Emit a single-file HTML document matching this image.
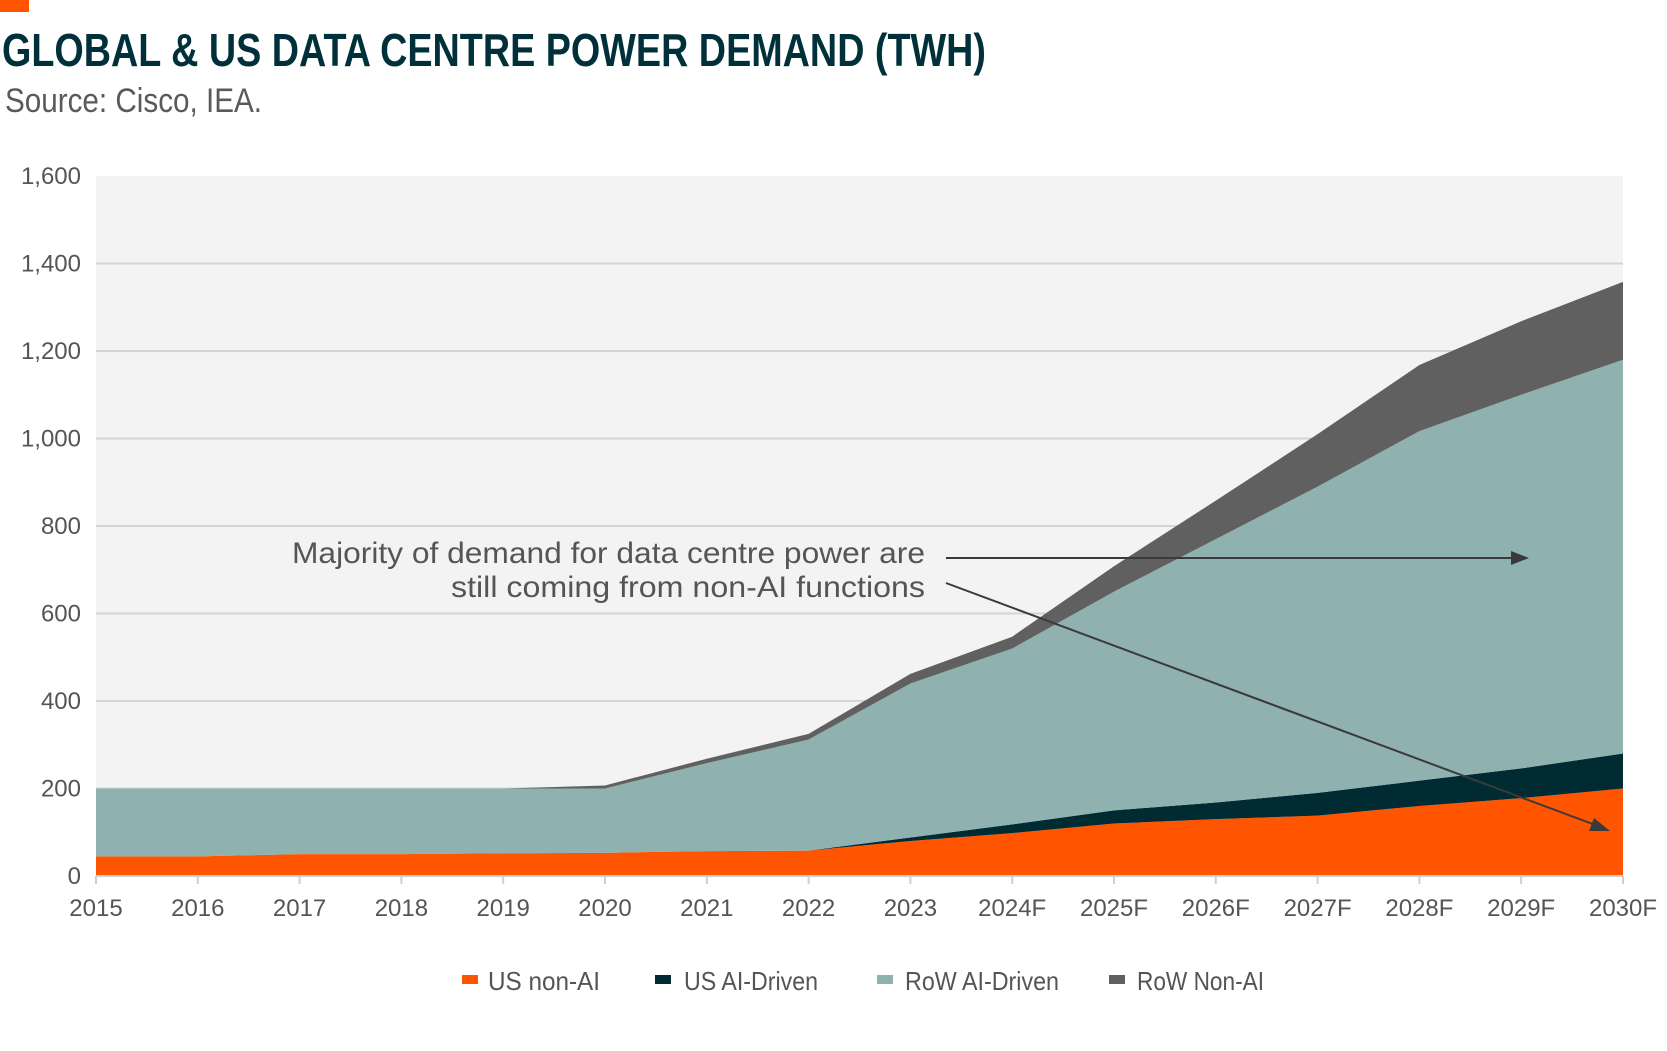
<!DOCTYPE html>
<html><head><meta charset="utf-8"><style>
html,body{margin:0;padding:0;background:#fff;width:1667px;height:1051px;overflow:hidden}
svg{display:block;font-family:"Liberation Sans",sans-serif}
</style></head><body>
<svg id="chart" width="1667" height="1051">
<rect x="0" y="0" width="29" height="12" fill="#ff5500"/>
<text x="2" y="66" font-size="46" font-weight="bold" fill="#00303a" textLength="984" lengthAdjust="spacingAndGlyphs">GLOBAL &amp; US DATA CENTRE POWER DEMAND (TWH)</text>
<text x="5" y="112" font-size="34" fill="#5a5a5a" textLength="257" lengthAdjust="spacingAndGlyphs">Source: Cisco, IEA.</text>
<rect x="96" y="176" width="1527" height="700" fill="#f3f3f3"/>
<g id="grid"></g><g id="areas"></g><g id="axes"></g>
<g>
<text x="925" y="563" font-size="30" fill="#555" text-anchor="end" textLength="633" lengthAdjust="spacingAndGlyphs">Majority of demand for data centre power are</text>
<text x="925" y="597" font-size="30" fill="#555" text-anchor="end" textLength="474" lengthAdjust="spacingAndGlyphs">still coming from non-AI functions</text>
<line x1="946" y1="558" x2="1515" y2="558" stroke="#3a3a3a" stroke-width="2"/>
<polygon points="1529,558 1511,551 1511,565" fill="#3a3a3a"/>
<line x1="946" y1="583" x2="1598" y2="826" stroke="#3a3a3a" stroke-width="2"/>
<polygon points="1610,831 1594,818 1589,831" fill="#3a3a3a"/>
</g>
<g>
<rect x="462" y="975" width="16" height="9" fill="#ff5500"/>
<text x="488" y="990" font-size="26" fill="#555" textLength="112" lengthAdjust="spacingAndGlyphs">US  non-AI</text>
<rect x="655" y="975" width="16" height="9" fill="#002b33"/>
<text x="684" y="990" font-size="26" fill="#555" textLength="134" lengthAdjust="spacingAndGlyphs">US AI-Driven</text>
<rect x="877" y="975" width="16" height="9" fill="#8fb1b0"/>
<text x="905" y="990" font-size="26" fill="#555" textLength="154" lengthAdjust="spacingAndGlyphs">RoW AI-Driven</text>
<rect x="1109" y="975" width="16" height="9" fill="#606060"/>
<text x="1137" y="990" font-size="26" fill="#555" textLength="127" lengthAdjust="spacingAndGlyphs">RoW Non-AI</text>
</g>
</svg>
<script>
const categories=["2015","2016","2017","2018","2019","2020","2021","2022","2023","2024F","2025F","2026F","2027F","2028F","2029F","2030F"];
const usNonAI=[45,45,50,50,52,53,57,58,80,98,120,130,138,160,178,200];
const usAI=[0,0,0,0,0,0,0,0,8,20,30,38,52,58,68,80];
const rowAI=[155,155,150,150,148,147,201,254,352,402,500,602,700,799,854,900];
const rowNonAI=[0,0,0,0,0,7,10,13,22,27,58,88,120,151,168,178];
const yTicks=[0,200,400,600,800,1000,1200,1400,1600];
const yTickLabels=["0","200","400","600","800","1,000","1,200","1,400","1,600"];
const NS="http://www.w3.org/2000/svg";
const L=96,R=1623,T=176,B=876,YMAX=1600;
const x=i=>L+(R-L)*i/(categories.length-1);
const y=v=>B-(B-T)*v/YMAX;
const grid=document.getElementById('grid'),areas=document.getElementById('areas'),axes=document.getElementById('axes');
yTicks.forEach((t,i)=>{
 if(t>0&&t<YMAX){const l=document.createElementNS(NS,'line');
 l.setAttribute('x1',L);l.setAttribute('x2',R);l.setAttribute('y1',y(t));l.setAttribute('y2',y(t));
 l.setAttribute('stroke','#d4d4d4');l.setAttribute('stroke-width','2');
 
 
 grid.appendChild(l);}
 const tx=document.createElementNS(NS,'text');
 tx.setAttribute('x',81);tx.setAttribute('y',y(t)+8);tx.setAttribute('text-anchor','end');
 tx.setAttribute('font-size','24');tx.setAttribute('fill','#555');tx.textContent=yTickLabels[i];
 
 
 axes.appendChild(tx);
});
const series=[[usNonAI,'#ff5500','area-us-non-ai'],[usAI,'#002b33','area-us-ai'],[rowAI,'#8fb1b0','area-row-ai'],[rowNonAI,'#606060','area-row-non-ai']];
let base=categories.map(()=>0);
series.forEach(([vals,col,name])=>{
 const top=base.map((b,i)=>b+vals[i]);
 let pts=top.map((v,i)=>x(i)+','+y(v));
 for(let i=base.length-1;i>=0;i--)pts.push(x(i)+','+y(base[i]));
 const p=document.createElementNS(NS,'polygon');
 p.setAttribute('points',pts.join(' '));p.setAttribute('fill',col);
 
 
 areas.appendChild(p);
 base=top;
});
const ax=document.createElementNS(NS,'line');
ax.setAttribute('x1',L);ax.setAttribute('x2',R);ax.setAttribute('y1',B);ax.setAttribute('y2',B);
ax.setAttribute('stroke','#cfcfcf');ax.setAttribute('stroke-width','2');


axes.appendChild(ax);
categories.forEach((c,i)=>{
 const tk=document.createElementNS(NS,'line');
 tk.setAttribute('x1',x(i));tk.setAttribute('x2',x(i));tk.setAttribute('y1',B);tk.setAttribute('y2',B+8);
 tk.setAttribute('stroke','#cfcfcf');tk.setAttribute('stroke-width','2');
 
 
 axes.appendChild(tk);
 const tx=document.createElementNS(NS,'text');
 tx.setAttribute('x',x(i));tx.setAttribute('y',916);tx.setAttribute('text-anchor','middle');
 tx.setAttribute('font-size','24');tx.setAttribute('fill','#555');tx.textContent=c;
 
 
 axes.appendChild(tx);
});
</script>
</body></html>
